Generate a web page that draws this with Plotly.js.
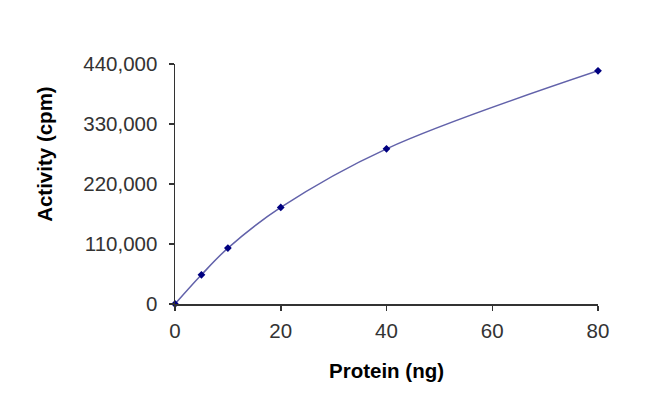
<!DOCTYPE html>
<html>
<head>
<meta charset="utf-8">
<script src="https://cdn.plot.ly/plotly-3.0.1.min.js"></script>
<style>
  html, body { margin: 0; padding: 0; background: #fff; }
  #plot { width: 650px; height: 411px; }
</style>
</head>
<body>
<div id="plot"></div>
<script>
// protein amount (ng) vs activity (cpm)
var protein = [0, 5, 10, 20, 40, 80];
var activity = [0, 53500, 102500, 177000, 284500, 427500];

var yTicks = [0, 110000, 220000, 330000, 440000];
var xTicks = [0, 20, 40, 60, 80];

var curve = {
    type: "scatter",
    x: protein,
    y: activity,
    mode: "lines+markers",
    line: {
        color: "#6262aa",
        width: 1.5,
        shape: "spline",
        smoothing: 1
    },
    marker: {
        symbol: "diamond",
        size: 6,
        color: "#000080"
    },
    showlegend: false,
    cliponaxis: false
};

var axisFont = {family: "Liberation Sans, Arial, sans-serif", size: 20.5, color: "#333333"};
var titleFont = {family: "Liberation Sans, Arial, sans-serif", size: 20.5, color: "#000000", weight: "bold"};

var layout = {
    width: 650,
    height: 411,
    paper_bgcolor: "#ffffff",
    plot_bgcolor: "#ffffff",
    margin: {l: 175, r: 52, t: 64, b: 107},
    xaxis: {
        range: [0, 80],
        tickvals: xTicks,
        ticks: "outside",
        ticklen: 5,
        tickcolor: "#333333",
        tickwidth: 1.5,
        ticklabelstandoff: 3,
        showline: true,
        linecolor: "#333333",
        linewidth: 1.5,
        showgrid: false,
        zeroline: false,
        tickfont: axisFont,
        title: {text: "<b>Protein (ng)</b>", font: titleFont, standoff: 22}
    },
    yaxis: {
        range: [0, 440000],
        tickvals: yTicks,
        tickformat: ",d",
        ticks: "outside",
        ticklen: 5,
        tickcolor: "#333333",
        tickwidth: 1.5,
        ticklabelstandoff: 7,
        showline: true,
        linecolor: "#333333",
        linewidth: 1.5,
        showgrid: false,
        zeroline: false,
        tickfont: axisFont
    },
    annotations: [{
        text: "<b>Activity (cpm)</b>",
        textangle: -90,
        xref: "paper",
        yref: "paper",
        x: -0.31,
        y: 0.625,
        xanchor: "center",
        yanchor: "middle",
        showarrow: false,
        font: titleFont
    }]
};

Plotly.newPlot("plot", [curve], layout, {displayModeBar: false, staticPlot: true});
</script>
</body>
</html>
